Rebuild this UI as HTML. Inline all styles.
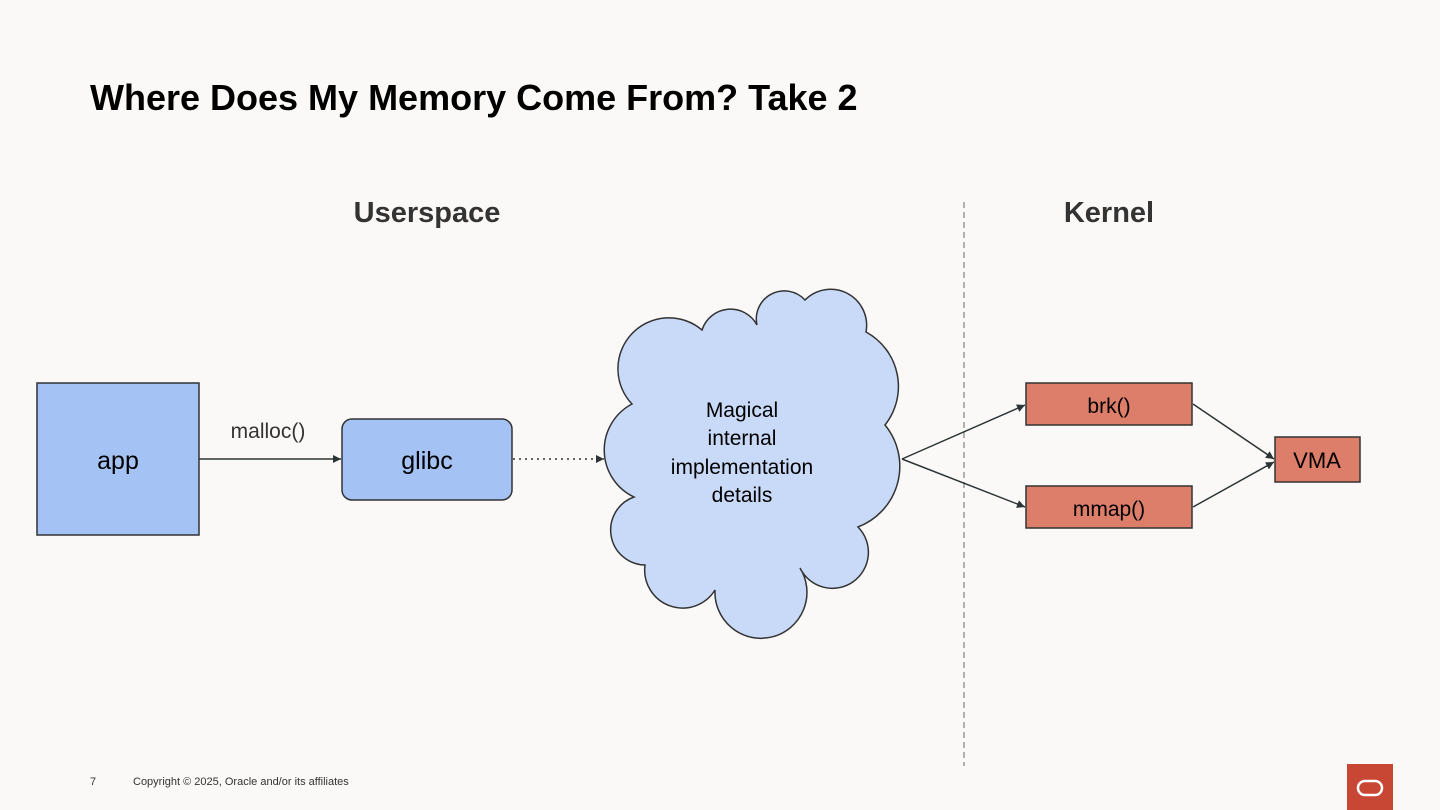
<!DOCTYPE html>
<html><head><meta charset="utf-8"><style>
html,body{margin:0;padding:0;background:#faf9f7;}
svg{display:block;font-family:"Liberation Sans",Arial,sans-serif;}
</style></head><body>
<svg width="1440" height="810" viewBox="0 0 1440 810" xmlns="http://www.w3.org/2000/svg">
<defs>
<marker id="ah" viewBox="0 0 10 10" refX="10" refY="5" markerWidth="10" markerHeight="8" markerUnits="userSpaceOnUse" orient="auto">
<path d="M0,0 L10,5 L0,10 z" fill="#2d3436"/></marker>
</defs>
<rect width="1440" height="810" fill="#faf9f7"/>
<text x="90" y="110" font-size="36" font-weight="bold" fill="#000">Where Does My Memory Come From? Take 2</text>
<text x="427" y="222" font-size="29" font-weight="bold" fill="#333" text-anchor="middle">Userspace</text>
<text x="1109" y="222" font-size="29" font-weight="bold" fill="#333" text-anchor="middle">Kernel</text>
<line x1="964" y1="202" x2="964" y2="766" stroke="#999" stroke-width="1.5" stroke-dasharray="6,4"/>

<rect x="37" y="383" width="162" height="152" fill="#a4c2f4" stroke="#333" stroke-width="1.5"/>
<text x="118" y="469" font-size="25" text-anchor="middle" fill="#000">app</text>
<line x1="199" y1="459" x2="341" y2="459" stroke="#2d3436" stroke-width="1.5" marker-end="url(#ah)"/>
<text x="268" y="438" font-size="21" text-anchor="middle" fill="#333">malloc()</text>
<rect x="342" y="419" width="170" height="81" rx="10" fill="#a4c2f4" stroke="#333" stroke-width="1.5"/>
<text x="427" y="469" font-size="25" text-anchor="middle" fill="#000">glibc</text>
<line x1="513" y1="459" x2="604" y2="459" stroke="#2d3436" stroke-width="1.5" stroke-dasharray="2,4" marker-end="url(#ah)"/>

<path d="M634,497 A52,52 0 0 1 632,404 A51,51 0 0 1 702,330 A30,30 0 0 1 757,325 A28,28 0 0 1 805,300 A36,36 0 0 1 866,332 A62,62 0 0 1 885,425 A65,65 0 0 1 858,527 A36,36 0 1 1 800,568 A46,46 0 1 1 715,590 A38,38 0 0 1 645,565 A35,35 0 0 1 634,497 Z" fill="#c9daf8" stroke="#333" stroke-width="1.5"/>
<g font-size="21" text-anchor="middle" fill="#000">
<text x="742" y="417">Magical</text>
<text x="742" y="445">internal</text>
<text x="742" y="474">implementation</text>
<text x="742" y="502">details</text>
</g>

<line x1="902" y1="459" x2="1025" y2="405" stroke="#2d3436" stroke-width="1.5" marker-end="url(#ah)"/>
<line x1="902" y1="459" x2="1025" y2="507" stroke="#2d3436" stroke-width="1.5" marker-end="url(#ah)"/>
<rect x="1026" y="383" width="166" height="42" fill="#dd7e6b" stroke="#333" stroke-width="1.5"/>
<text x="1109" y="413" font-size="21" text-anchor="middle" fill="#000">brk()</text>
<rect x="1026" y="486" width="166" height="42" fill="#dd7e6b" stroke="#333" stroke-width="1.5"/>
<text x="1109" y="516" font-size="21" text-anchor="middle" fill="#000">mmap()</text>
<line x1="1193" y1="404" x2="1274" y2="459" stroke="#2d3436" stroke-width="1.5" marker-end="url(#ah)"/>
<line x1="1193" y1="507" x2="1274" y2="462" stroke="#2d3436" stroke-width="1.5" marker-end="url(#ah)"/>
<rect x="1275" y="437" width="85" height="45" fill="#dd7e6b" stroke="#333" stroke-width="1.5"/>
<text x="1317" y="468" font-size="22" text-anchor="middle" fill="#000">VMA</text>

<text x="90" y="785" font-size="11" fill="#333">7</text>
<text x="133" y="785" font-size="11" fill="#333">Copyright © 2025, Oracle and/or its affiliates</text>
<rect x="1347" y="764" width="46" height="46" fill="#c74634"/>
<rect x="1358" y="781" width="24" height="14" rx="7" fill="none" stroke="#fff" stroke-width="2.5"/>
</svg>
</body></html>
